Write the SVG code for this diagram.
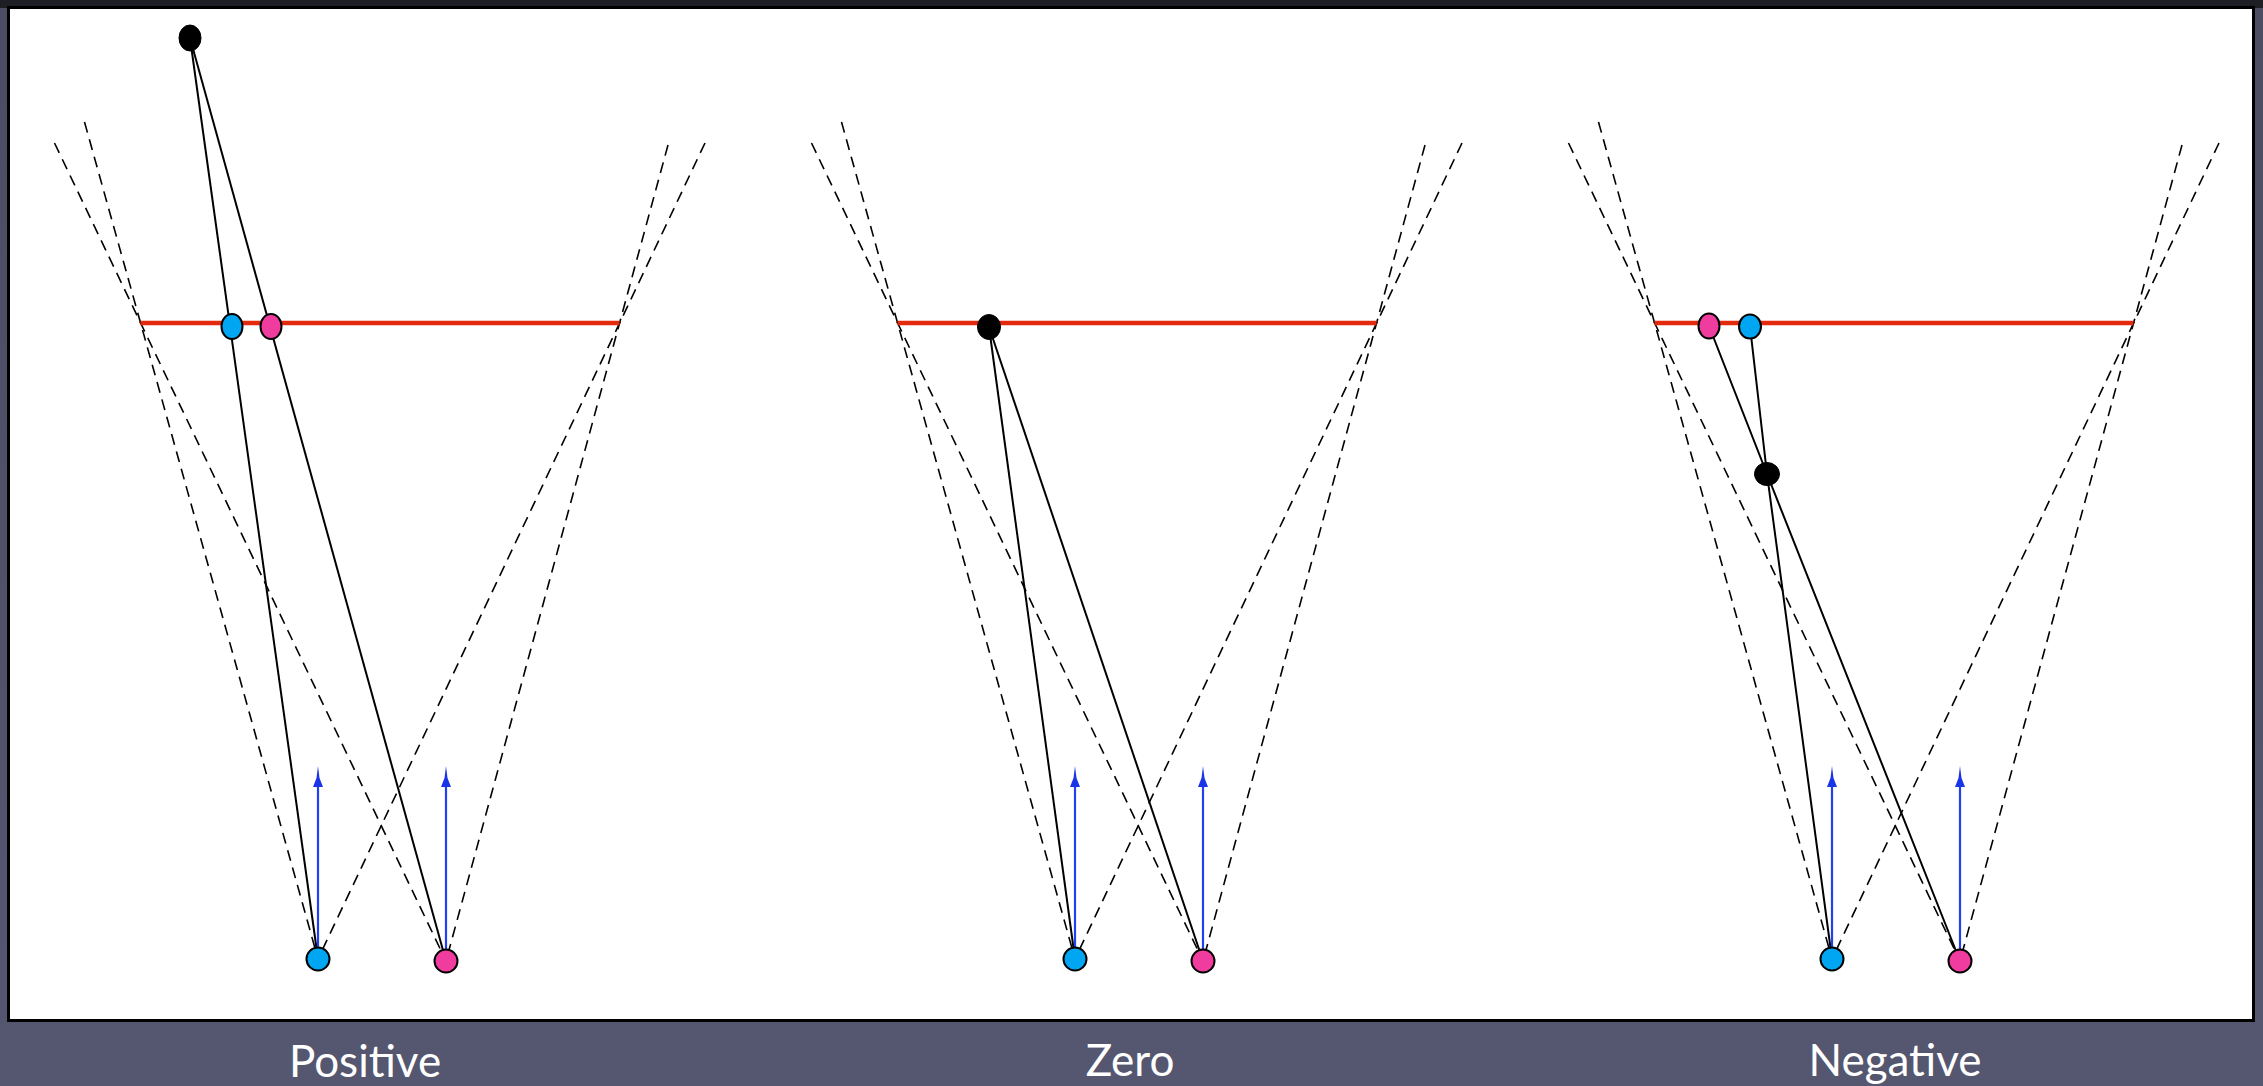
<svg xmlns="http://www.w3.org/2000/svg" width="2263" height="1086" viewBox="0 0 2263 1086">
<defs>
<style>
.dash{fill:none;stroke:#000;stroke-width:1.6;stroke-dasharray:11 7}
.ray{fill:none;stroke:#000;stroke-width:2}
.screen{fill:none;stroke:#e42a0c;stroke-width:4.5}
.shaft{fill:none;stroke:#2140f0;stroke-width:2.2}
.head{fill:#1a34e8}
.blue{fill:#00a6f2;stroke:#000;stroke-width:2}
.pink{fill:#f03c9e;stroke:#000;stroke-width:2}
.pt{fill:#000;stroke:#000;stroke-width:1}
.lbl{font-family:Lato,"Open Sans","Liberation Sans",sans-serif;font-size:44px;fill:#fff;text-anchor:middle}
</style>
<linearGradient id="bg" x1="0" y1="0" x2="0" y2="1">
<stop offset="0" stop-color="#4c4d62"/>
<stop offset="1" stop-color="#555670"/>
</linearGradient>
<g id="frustum">
<line class="dash" x1="84.5" y1="122" x2="318" y2="959"/>
<line class="dash" x1="705" y1="143" x2="318" y2="959"/>
<line class="dash" x1="54.5" y1="143" x2="446" y2="961"/>
<line class="dash" x1="668" y1="145" x2="446" y2="961"/>
<line class="screen" x1="140.5" y1="323" x2="619.5" y2="323"/>
</g>
<g id="cams">
<line class="shaft" x1="318" y1="948" x2="318" y2="780"/>
<polygon class="head" points="318,766 316.5,778 313,787 323,787 319.5,778"/>
<line class="shaft" x1="446" y1="950" x2="446" y2="780"/>
<polygon class="head" points="446,766 444.5,778 441,787 451,787 447.5,778"/>
<circle class="blue" cx="318" cy="959" r="11.5"/>
<circle class="pink" cx="446" cy="961" r="11.5"/>
</g>
</defs>
<rect x="0" y="0" width="2263" height="1086" fill="url(#bg)"/>
<rect x="0" y="0" width="2263" height="8" fill="#1e1f25"/>
<rect x="8.5" y="7.5" width="2245" height="1013" fill="#fff" stroke="#000" stroke-width="3"/>

<g id="panel-positive">
<use href="#frustum"/>
<g id="connectors-positive">
<line class="ray" x1="190" y1="38" x2="318" y2="959"/>
<line class="ray" x1="190" y1="38" x2="446" y2="961"/>
</g>
<use href="#cams"/>
<g id="node-pos-point"><ellipse class="pt" cx="190" cy="38" rx="11" ry="13"/></g>
<g id="node-pos-left"><ellipse class="blue" cx="232" cy="326.5" rx="10.5" ry="12.5"/></g>
<g id="node-pos-right"><ellipse class="pink" cx="271" cy="326.5" rx="10.5" ry="12.5"/></g>
</g>

<g id="panel-zero" transform="translate(757 0)">
<use href="#frustum"/>
<g id="connectors-zero">
<line class="ray" x1="232" y1="327" x2="318" y2="959"/>
<line class="ray" x1="232" y1="327" x2="446" y2="961"/>
</g>
<use href="#cams"/>
<g id="node-zero-point"><ellipse class="pt" cx="232" cy="327" rx="11.5" ry="12.5"/></g>
</g>

<g id="panel-negative" transform="translate(1514 0)">
<use href="#frustum"/>
<g id="connectors-negative">
<polyline class="ray" points="236,326.5 253,474 318,959"/>
<polyline class="ray" points="195,326 253,474 446,961"/>
</g>
<use href="#cams"/>
<g id="node-neg-left"><ellipse class="pink" cx="195" cy="326" rx="10.5" ry="12.5"/></g>
<g id="node-neg-right"><ellipse class="blue" cx="236" cy="326.5" rx="11" ry="12"/></g>
<g id="node-neg-point"><ellipse class="pt" cx="253" cy="474" rx="12.5" ry="11.5"/></g>
</g>

<text class="lbl" x="365" y="1077">Positive</text>
<text class="lbl" x="1130" y="1076">Zero</text>
<text class="lbl" x="1895" y="1076">Negative</text>
</svg>
